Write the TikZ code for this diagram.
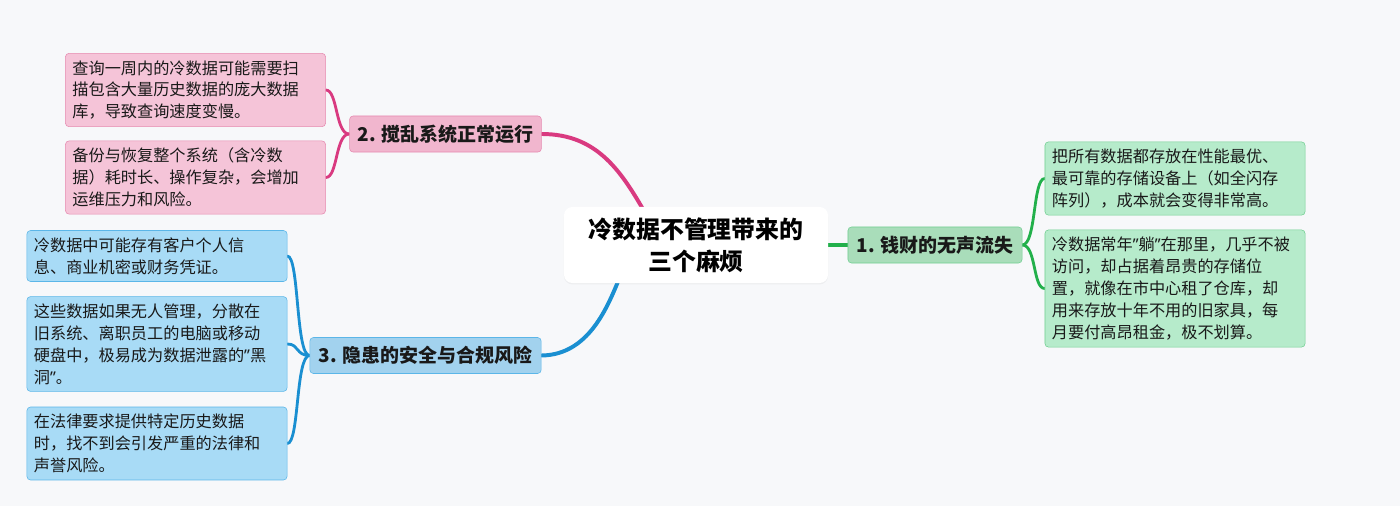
\documentclass[tikz,border=0pt]{standalone}
\usepackage{fontspec}
\setmainfont{Noto Sans CJK SC}
\newfontfamily\quotefont{Noto Sans}
\newcommand\qopen{{\quotefont “}}
\newcommand\qclose{{\quotefont ”}}
\usepackage{tikz}
\usetikzlibrary{shadows}
\definecolor{mmbg}{HTML}{F7F8FA}
\definecolor{mmpink}{HTML}{D93A80}
\definecolor{mmpinkfill}{HTML}{F5C4D8}
\definecolor{mmpinkdark}{HTML}{F1B6CE}
\definecolor{mmpinkedge}{HTML}{E68AB0}
\definecolor{mmblue}{HTML}{1A8FD1}
\definecolor{mmbluefill}{HTML}{A8DBF6}
\definecolor{mmbluedark}{HTML}{A2D2EE}
\definecolor{mmblueedge}{HTML}{5BB6E8}
\definecolor{mmgreen}{HTML}{22B04B}
\definecolor{mmgreenfill}{HTML}{B6EBCB}
\definecolor{mmgreendark}{HTML}{A9DDBA}
\definecolor{mmgreenedge}{HTML}{72CF92}
\pgfdeclarelayer{background}
\pgfsetlayers{background,main}

\begin{document}
\begin{tikzpicture}[x=0.025cm, y=-0.025cm,
    leafbox/.style={rectangle, rounded corners=2.5pt, minimum width=6.5cm, text width=6.15cm,
      inner xsep=0.175cm, inner ysep=0.175cm, align=left, font=\fontsize{11.5}{15.6}\selectfont, text=black!90},
    branchbox/.style={rectangle, rounded corners=2.5pt, minimum height=0.9cm, inner xsep=0.2cm,
      align=center, font=\fontsize{13.5}{16}\selectfont\bfseries, text=black!90},
    rootbox/.style={rectangle, rounded corners=6pt, fill=white, minimum width=6.6cm, minimum height=1.9cm,
      align=center, font=\fontsize{17}{22.7}\selectfont\bfseries,
      drop shadow={shadow xshift=0pt, shadow yshift=-1pt, opacity=0.08}},
    mainline/.style={line width=2.8pt, line cap=round},
    leafline/.style={line width=2pt, line cap=round}
  ]
    % Page
    \useasboundingbox (0,0) rectangle (1400,506);

    % Root
    \node[rootbox] (ctr) at (696,245) {冷数据不管理带来的\\三个麻烦};
    \coordinate (ctrtop) at (648,218);
    \coordinate (ctrbot) at (622,272);

    % Branch 1: green
    \node[branchbox, fill=mmgreendark, draw=mmgreenedge, minimum width=4.35cm] (b1) at (935,245) {1. 钱财的无声流失};
    \node[leafbox, fill=mmgreenfill, draw=mmgreenedge] (g1) at (1175,178.5)
      {把所有数据都存放在性能最优、\\最可靠的存储设备上（如全闪存\\阵列），成本就会变得非常高。};
    \node[leafbox, fill=mmgreenfill, draw=mmgreenedge] (g2) at (1175,288.5)
      {冷数据常年\qclose 躺\qclose 在那里，几乎不被\\访问，却占据着昂贵的存储位\\置，就像在市中心租了仓库，却\\用来存放十年不用的旧家具，每\\月要付高昂租金，极不划算。};

    % Branch 2: pink
    \node[branchbox, fill=mmpinkdark, draw=mmpinkedge, minimum width=4.78cm] (b2) at (445.5,134) {2. 搅乱系统正常运行};
    \node[leafbox, fill=mmpinkfill, draw=mmpinkedge] (p1) at (195.5,90)
      {查询一周内的冷数据可能需要扫\\描包含大量历史数据的庞大数据\\库，导致查询速度变慢。};
    \node[leafbox, fill=mmpinkfill, draw=mmpinkedge] (p2) at (195.5,177.5)
      {备份与恢复整个系统（含冷数\\据）耗时长、操作复杂，会增加\\运维压力和风险。};

    % Branch 3: blue
    \node[branchbox, fill=mmbluedark, draw=mmblueedge, minimum width=5.78cm] (b3) at (425.5,355.5) {3. 隐患的安全与合规风险};
    \node[leafbox, fill=mmbluefill, draw=mmblueedge] (u1) at (157,256)
      {冷数据中可能存有客户个人信\\息、商业机密或财务凭证。};
    \node[leafbox, fill=mmbluefill, draw=mmblueedge] (u2) at (157,344)
      {这些数据如果无人管理，分散在\\旧系统、离职员工的电脑或移动\\硬盘中，极易成为数据泄露的\qclose 黑\\洞\qclose 。};
    \node[leafbox, fill=mmbluefill, draw=mmblueedge] (u3) at (157,443.5)
      {在法律要求提供特定历史数据\\时，找不到会引发严重的法律和\\声誉风险。};

    % Connectors
    \begin{pgfonlayer}{background}
      \fill[mmbg] (0,0) rectangle (1400,506);
      \draw[mainline, mmgreen] (ctr.east) -- (b1.west);
      \draw[mainline, mmpink] (b2.east) .. controls (598,134) and (622,172) .. (ctrtop);
      \draw[mainline, mmblue] (b3.east) .. controls (592,355) and (610,300) .. (ctrbot);

      \draw[leafline, mmgreen] (b1.east) .. controls +(14,0) and +(-12,0) .. (g1.west);
      \draw[leafline, mmgreen] (b1.east) .. controls +(14,0) and +(-12,0) .. (g2.west);

      \draw[leafline, mmpink] (b2.west) .. controls +(-14,0) and +(12,0) .. (p1.east);
      \draw[leafline, mmpink] (b2.west) .. controls +(-14,0) and +(12,0) .. (p2.east);

      \draw[leafline, mmblue] (b3.west) .. controls +(-14,0) and +(12,0) .. (u1.east);
      \draw[leafline, mmblue] (b3.west) .. controls +(-14,0) and +(12,0) .. (u2.east);
      \draw[leafline, mmblue] (b3.west) .. controls +(-14,0) and +(12,0) .. (u3.east);
    \end{pgfonlayer}
  \end{tikzpicture}
\end{document}
